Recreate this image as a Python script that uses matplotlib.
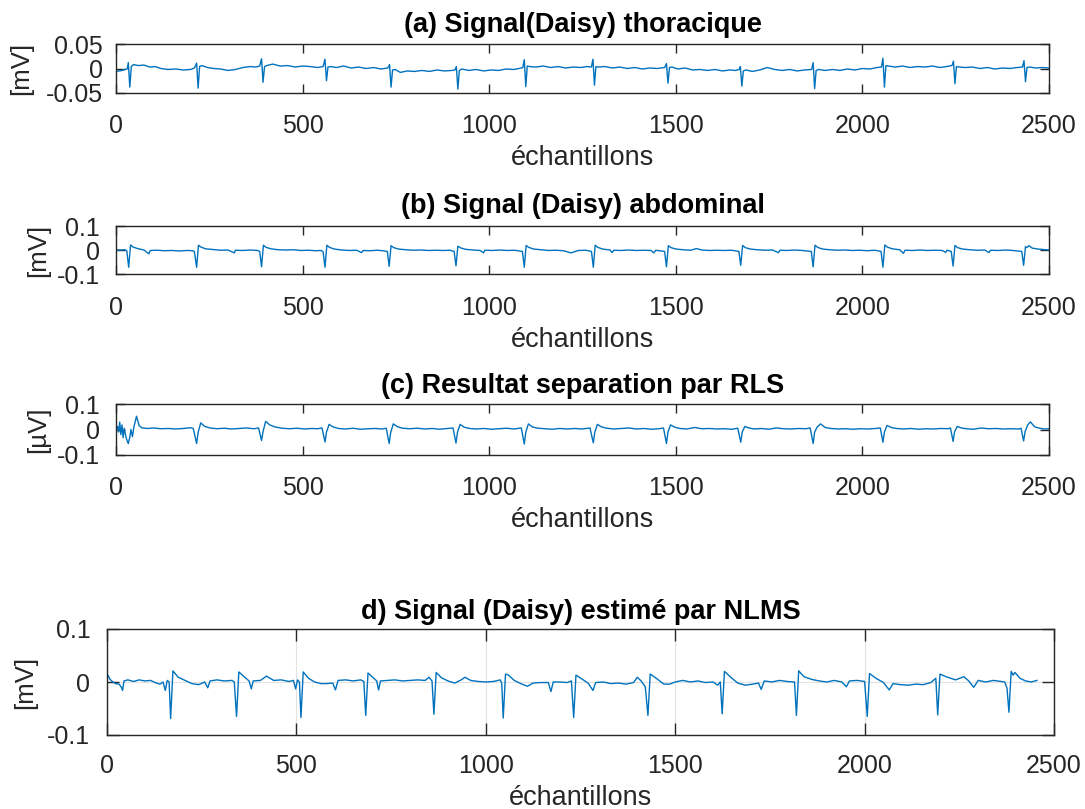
import matplotlib
matplotlib.use("Agg")
import matplotlib.pyplot as plt

plt.rcParams['font.family'] = ['Liberation Sans', 'DejaVu Sans']
plt.rcParams['axes.unicode_minus'] = False

# (a) thoracic signal (sample index, mV)
a_x = [0, 8, 16, 24, 30,
       33, 37, 41, 47, 60, 75, 90, 105, 120, 140, 160, 180, 200, 210,
       216, 220, 224, 230, 245, 262, 280, 300, 320, 340, 360, 375, 385,
       390, 394, 398, 404, 420, 440, 460, 480, 500, 520, 540, 555,
       560, 564, 568, 575, 590, 610, 630, 650, 670, 690, 710, 728,
       733, 737, 741, 748, 762, 780, 800, 820, 840, 860, 880, 900, 908,
       912, 916, 920, 927, 945, 965, 985, 1005, 1025, 1045, 1065, 1080, 1090,
       1094, 1098, 1102, 1108, 1125, 1145, 1165, 1185, 1205, 1225, 1245, 1262, 1274,
       1278, 1282, 1286, 1292, 1310, 1330, 1350, 1370, 1390, 1410, 1430, 1450, 1470,
       1475, 1479, 1483, 1490, 1505, 1525, 1545, 1565, 1585, 1605, 1625, 1645, 1660, 1670,
       1673, 1677, 1681, 1688, 1705, 1725, 1745, 1765, 1785, 1805, 1825, 1845, 1864,
       1868, 1872, 1876, 1883, 1900, 1920, 1940, 1960, 1980, 2000, 2020, 2040, 2051,
       2055, 2059, 2063, 2070, 2088, 2108, 2128, 2148, 2168, 2188, 2208, 2225, 2240,
       2244, 2248, 2252, 2259, 2275, 2295, 2315, 2335, 2355, 2375, 2395, 2415, 2429,
       2433, 2437, 2441, 2448, 2465, 2482, 2500]
a_y = [-0.006, -0.005, -0.004, -0.002, -0.001,
       0.012, -0.038, 0.004, 0.008, 0.006, 0.007, 0.003, 0.004, 0.000, -0.002, -0.001, -0.003, -0.002, 0.001,
       0.011, -0.040, 0.004, 0.006, 0.002, 0.000, -0.001, -0.004, -0.002, 0.002, 0.004, 0.003, 0.005,
       0.020, -0.028, 0.004, 0.006, 0.009, 0.005, 0.006, 0.003, 0.005, 0.004, 0.002, 0.004,
       0.019, -0.025, 0.003, 0.004, 0.002, 0.005, 0.001, 0.003, 0.000, 0.002, -0.001, 0.001,
       0.008, -0.038, -0.003, -0.002, -0.008, -0.005, -0.006, -0.004, -0.006, -0.003, -0.005, -0.004, -0.003,
       0.004, -0.042, -0.004, -0.001, -0.004, -0.002, -0.005, -0.003, -0.004, -0.001, -0.002, 0.000, 0.002,
       0.018, -0.037, 0.005, 0.004, 0.003, 0.005, 0.002, 0.004, 0.001, 0.003, 0.002, 0.004, 0.003,
       0.019, -0.034, 0.004, 0.003, 0.004, 0.001, 0.003, 0.000, 0.002, -0.001, 0.001, 0.000, 0.002,
       0.010, -0.030, 0.002, 0.003, -0.001, 0.001, -0.003, -0.002, -0.004, -0.002, -0.005, -0.003, -0.004, -0.002,
       0.004, -0.036, -0.005, -0.003, -0.006, -0.003, 0.002, -0.002, -0.004, -0.002, -0.005, -0.003, -0.002,
       0.012, -0.041, -0.004, -0.002, -0.004, -0.002, -0.004, -0.001, -0.003, 0.000, -0.001, 0.002, 0.003,
       0.021, -0.038, 0.006, 0.005, 0.003, 0.005, 0.002, 0.004, 0.003, 0.005, 0.002, 0.004, 0.006,
       0.015, -0.031, 0.004, 0.003, 0.002, 0.003, 0.000, 0.002, -0.001, 0.001, 0.000, 0.002, 0.003,
       0.016, -0.027, 0.002, 0.003, 0.001, 0.002, 0.001]

# (b) abdominal signal
b_x = [0, 12, 24, 29,
       34, 39, 46, 58, 75, 88, 92, 110, 130, 150, 170, 190, 205, 210,
       216, 221, 228, 240, 260, 280, 300, 317, 320, 340, 360, 380, 385,
       390, 395, 402, 415, 435, 455, 475, 495, 515, 535, 550, 555,
       560, 565, 572, 585, 605, 625, 645, 658, 662, 680, 700, 715, 727,
       732, 737, 744, 757, 777, 797, 817, 837, 857, 877, 895, 906,
       911, 916, 923, 936, 956, 976, 985, 988, 1008, 1028, 1048, 1068, 1089,
       1094, 1099, 1106, 1119, 1139, 1159, 1179, 1199, 1219, 1239, 1259, 1274,
       1279, 1284, 1291, 1304, 1324, 1329, 1334, 1354, 1374, 1394, 1414, 1434, 1441, 1446, 1470,
       1475, 1480, 1487, 1500, 1520, 1540, 1555, 1570, 1590, 1610, 1630, 1650, 1669,
       1674, 1679, 1686, 1699, 1719, 1739, 1759, 1775, 1779, 1799, 1819, 1839, 1863,
       1868, 1873, 1880, 1893, 1913, 1933, 1953, 1973, 1993, 2013, 2033, 2050,
       2055, 2060, 2067, 2080, 2100, 2110, 2114, 2134, 2154, 2174, 2194, 2214, 2223, 2227, 2238,
       2243, 2248, 2255, 2268, 2288, 2308, 2328, 2339, 2343, 2363, 2383, 2403, 2427,
       2432, 2437, 2441, 2446, 2455, 2470, 2485, 2500]
b_y = [0.000, 0.000, 0.001, -0.004,
       -0.072, 0.021, 0.012, 0.006, 0.000, -0.016, -0.002, -0.001, -0.003, -0.002, -0.004, -0.002, -0.003, -0.006,
       -0.072, 0.020, 0.012, 0.005, 0.002, -0.001, 0.000, -0.012, -0.001, -0.002, 0.000, -0.002, -0.006,
       -0.070, 0.020, 0.011, 0.005, 0.001, 0.000, 0.001, -0.002, -0.001, -0.003, -0.002, -0.008,
       -0.072, 0.020, 0.011, 0.004, 0.000, -0.002, -0.001, -0.011, -0.002, -0.003, -0.001, -0.003, -0.006,
       -0.068, 0.018, 0.010, 0.004, 0.001, -0.001, 0.000, -0.002, -0.001, -0.002, -0.001, -0.006,
       -0.066, 0.016, 0.009, 0.003, 0.000, -0.002, -0.012, -0.001, -0.002, 0.000, -0.002, -0.001, -0.006,
       -0.072, 0.019, 0.011, 0.004, 0.001, -0.002, -0.001, -0.003, -0.012, -0.002, -0.001, -0.006,
       -0.072, 0.020, 0.011, 0.004, 0.000, -0.011, -0.001, -0.002, 0.000, -0.002, -0.001, -0.002, -0.012, -0.001, -0.006,
       -0.070, 0.018, 0.010, 0.004, 0.001, -0.001, 0.006, 0.000, -0.002, -0.001, -0.002, -0.001, -0.006,
       -0.064, 0.019, 0.010, 0.004, 0.001, -0.001, 0.000, -0.011, -0.001, -0.002, 0.000, -0.002, -0.006,
       -0.070, 0.020, 0.011, 0.004, 0.001, -0.001, 0.000, -0.002, -0.001, -0.003, -0.001, -0.006,
       -0.072, 0.021, 0.012, 0.005, 0.001, -0.014, -0.001, -0.002, 0.000, -0.002, -0.001, -0.002, -0.010, -0.001, -0.006,
       -0.067, 0.019, 0.010, 0.004, 0.001, -0.001, 0.000, -0.011, -0.001, -0.002, 0.000, -0.002, -0.006,
       -0.064, 0.014, 0.010, 0.018, 0.008, 0.004, 0.002, 0.000]

# (c) RLS separation result
c_x = [0, 4, 7, 10, 13, 16, 19, 22, 26, 30, 33, 37, 40, 44, 48, 55, 62, 70, 85, 100, 120, 140, 160, 180, 200, 207,
       216, 220, 227, 238, 252, 270, 290, 310, 330, 350, 370, 382,
       390, 394, 401, 412, 426, 445, 465, 485, 505, 525, 540, 552,
       560, 564, 571, 582, 596, 615, 635, 655, 675, 695, 712, 724,
       732, 736, 743, 754, 768, 787, 807, 827, 847, 867, 887, 903,
       911, 915, 922, 933, 947, 966, 986, 1006, 1026, 1046, 1066, 1086,
       1094, 1098, 1105, 1116, 1130, 1149, 1169, 1189, 1209, 1229, 1249, 1270,
       1279, 1283, 1290, 1301, 1315, 1334, 1354, 1374, 1394, 1414, 1434, 1455, 1467,
       1475, 1479, 1486, 1497, 1511, 1530, 1550, 1570, 1590, 1610, 1630, 1650, 1666,
       1674, 1678, 1685, 1696, 1710, 1729, 1749, 1769, 1789, 1809, 1829, 1849, 1860,
       1868, 1872, 1879, 1888, 1900, 1915, 1935, 1955, 1975, 1995, 2015, 2035, 2048,
       2055, 2059, 2066, 2077, 2091, 2110, 2130, 2150, 2170, 2190, 2210, 2230, 2236,
       2243, 2247, 2254, 2265, 2279, 2298, 2318, 2338, 2358, 2378, 2398, 2418, 2425,
       2432, 2436, 2443, 2450, 2462, 2478, 2490, 2500]
c_y = [0.000, 0.012, -0.010, 0.029, -0.020, 0.018, -0.032, 0.005, -0.025, -0.045, -0.055, -0.030, 0.000, -0.028,
       0.010, 0.052, 0.015, 0.006, 0.004, 0.006, 0.003, 0.004, 0.002, 0.004, 0.007, 0.004,
       -0.055, -0.012, 0.026, 0.012, 0.006, 0.003, 0.005, 0.002, 0.004, 0.006, 0.003, 0.006,
       -0.043, -0.008, 0.032, 0.018, 0.010, 0.005, 0.003, 0.005, 0.002, 0.004, 0.003, 0.006,
       -0.049, -0.010, 0.020, 0.010, 0.004, 0.002, 0.005, 0.001, 0.003, 0.004, 0.002, 0.005,
       -0.055, -0.012, 0.022, 0.011, 0.005, 0.003, 0.005, 0.002, 0.004, 0.001, 0.004, 0.006,
       -0.053, -0.011, 0.020, 0.009, 0.004, 0.002, 0.004, 0.001, 0.003, 0.005, 0.002, 0.006,
       -0.057, -0.011, 0.022, 0.010, 0.005, 0.003, 0.001, 0.004, 0.002, 0.004, 0.002, 0.006,
       -0.052, -0.010, 0.020, 0.010, 0.005, 0.002, 0.004, 0.006, 0.002, 0.004, 0.001, 0.003, 0.006,
       -0.055, -0.010, 0.018, 0.009, 0.004, 0.002, 0.008, 0.003, 0.004, 0.002, 0.003, 0.001, 0.005,
       -0.050, -0.010, 0.012, 0.006, 0.002, 0.004, 0.001, 0.006, 0.003, 0.002, 0.004, 0.003, 0.006,
       -0.055, -0.010, 0.010, 0.022, 0.008, 0.004, 0.002, 0.003, 0.001, 0.003, 0.002, 0.004, 0.006,
       -0.050, -0.010, 0.016, 0.008, 0.004, 0.002, 0.004, 0.001, 0.003, 0.002, 0.004, 0.003, 0.006,
       -0.047, -0.009, 0.012, 0.006, 0.003, 0.001, 0.006, 0.003, 0.004, 0.002, 0.003, 0.002, 0.005,
       -0.045, -0.008, 0.018, 0.030, 0.010, 0.004, 0.002, 0.003]

# (d) NLMS estimate
d_x = [0, 3, 8, 14, 22, 32, 38, 41, 45, 55, 70, 85, 100, 115, 130, 140, 148, 154,
       159, 164, 168, 174, 188, 206, 224, 242, 258, 266, 272, 290, 310, 330, 336,
       342, 348, 362, 375, 381, 386, 405, 421, 440, 460, 480, 492, 498, 503, 508,
       512, 518, 532, 548, 565, 580, 596, 603, 610, 630, 650, 670, 678,
       683, 689, 703, 712, 717, 722, 740, 760, 780, 800, 820, 840, 850, 858,
       863, 869, 883, 900, 918, 935, 945, 960, 980, 1000, 1020, 1038, 1042,
       1046, 1052, 1060, 1075, 1095, 1110, 1125, 1145, 1165, 1172, 1178, 1195, 1215, 1226,
       1232, 1238, 1255, 1270, 1283, 1290, 1310, 1330, 1350, 1370, 1390, 1400, 1410, 1421,
       1428, 1434, 1450, 1470, 1485, 1500, 1520, 1540, 1560, 1580, 1600, 1612, 1619,
       1624, 1630, 1645, 1665, 1685, 1705, 1720, 1727, 1735, 1755, 1775, 1795, 1815,
       1820, 1826, 1840, 1860, 1880, 1900, 1920, 1940, 1952, 1960, 1980, 2000,
       2007, 2013, 2030, 2050, 2065, 2075, 2095, 2115, 2135, 2155, 2175, 2188,
       2193, 2199, 2215, 2240, 2262, 2275, 2288, 2300, 2320, 2340, 2360, 2370, 2376,
       2381, 2387, 2392, 2397, 2410, 2425, 2440, 2455]
d_y = [0.016, 0.012, 0.005, 0.001, -0.003, -0.004, -0.010, -0.016, 0.002, 0.004, 0.001, 0.004, 0.002, 0.003,
       -0.002, -0.004, 0.000, -0.016,
       0.003, 0.000, -0.069, 0.021, 0.009, 0.003, -0.003, -0.005, 0.000, -0.011, 0.002, 0.004, 0.002, 0.003, 0.000,
       -0.065, 0.019, 0.010, 0.002, -0.013, 0.002, 0.003, 0.011, 0.003, 0.004, 0.001, 0.003, -0.013, 0.004, 0.000,
       -0.067, 0.019, 0.007, 0.000, -0.003, -0.003, -0.002, -0.015, 0.003, 0.004, 0.002, 0.004, 0.001,
       -0.063, 0.017, 0.008, 0.002, -0.015, 0.002, 0.003, 0.004, 0.002, 0.003, 0.004, 0.003, 0.009, 0.002,
       -0.061, 0.018, 0.008, 0.002, -0.002, 0.004, 0.009, 0.003, 0.001, 0.000, 0.001, 0.004, -0.002,
       -0.068, 0.015, 0.013, 0.003, -0.004, -0.008, -0.002, -0.001, -0.001, -0.018, 0.000, 0.000, -0.001, 0.002,
       -0.067, 0.013, 0.005, -0.002, -0.016, -0.001, 0.000, -0.003, -0.002, -0.004, -0.001, 0.009, 0.002, -0.009,
       -0.063, 0.015, 0.007, -0.004, -0.004, 0.000, 0.003, 0.000, 0.002, -0.001, 0.000, -0.006, 0.000,
       -0.060, 0.020, 0.010, -0.002, -0.006, -0.004, -0.002, -0.014, 0.002, 0.000, 0.003, 0.001, 0.000,
       -0.063, 0.021, 0.010, 0.005, 0.002, 0.000, 0.003, 0.000, -0.009, 0.002, 0.003, 0.001,
       -0.065, 0.016, 0.007, -0.001, -0.015, -0.003, -0.005, -0.006, -0.004, -0.005, -0.001, 0.007,
       -0.062, 0.015, 0.010, 0.004, 0.010, 0.002, -0.010, 0.003, 0.000, 0.003, 0.001, 0.000, -0.012,
       -0.057, 0.020, 0.013, 0.018, 0.007, 0.002, 0.000, 0.003]

titles = ['(a) Signal(Daisy) thoracique', '(b) Signal (Daisy) abdominal',
          '(c) Resultat separation par RLS', 'd) Signal (Daisy) estimé par NLMS']
ylabels = ['[mV]', '[mV]', '[µV]', '[mV]']
ylims = [(-0.05, 0.05), (-0.1, 0.1), (-0.1, 0.1), (-0.1, 0.1)]
yticks = [[-0.05, 0, 0.05], [-0.1, 0, 0.1], [-0.1, 0, 0.1], [-0.1, 0, 0.1]]
yticklabels = [['-0.05', '0', '0.05'], ['-0.1', '0', '0.1'], ['-0.1', '0', '0.1'], ['-0.1', '0', '0.1']]
xticks = [0, 500, 1000, 1500, 2000, 2500]
xlabel = 'échantillons'

series = [(a_x, a_y), (b_x, b_y), (c_x, c_y), (d_x, d_y)]

W, H = 1085, 809
fig = plt.figure(figsize=(W / 100, H / 100), dpi=100)

# boxes in pixels: left, top, right, bottom
boxes = [(116, 44, 1049, 93), (116, 226, 1049, 274), (116, 404, 1049, 455), (107, 629, 1054, 735)]
title_pad = [8.5, 9.5, 8, 7]
xtick_pad = [15, 16, 15, 14]
ytick_pad = [9.5, 11.5, 11.5, 12]
xlabel_top = [145, 327, 507, 785]
ylabel_right = [33, 50, 50, 37]

edge = '#262626'
for i in range(4):
    l, t, r, b = boxes[i]
    ax = fig.add_axes([l / W, 1 - b / H, (r - l) / W, (b - t) / H])
    x, y = series[i]
    ax.plot(x, y, color='#0072BD', linewidth=1.0)
    ax.set_xlim(0, 2500)
    ax.set_ylim(*ylims[i])
    ax.set_xticks(xticks)
    ax.set_xticklabels([str(v) for v in xticks])
    ax.set_yticks(yticks[i])
    ax.set_yticklabels(yticklabels[i])
    for s in ax.spines.values():
        s.set_color(edge)
        s.set_linewidth(1.0)
    tl = 8.5 if i == 3 else 6.5
    ax.tick_params(axis='both', direction='in', top=True, right=True, length=tl,
                   width=1.0, color=edge, labelcolor=edge, labelsize=18)
    ax.tick_params(axis='x', pad=xtick_pad[i])
    ax.tick_params(axis='y', pad=ytick_pad[i])
    if i == 3:
        ax.grid(True, color='#e2e2e2', linewidth=0.8)
        ax.set_axisbelow(True)
    ax.set_title(titles[i], fontsize=19.5, fontweight='bold', pad=title_pad[i])
    ax.set_xlabel(xlabel, fontsize=19.5, color=edge, va='top')
    ax.xaxis.set_label_coords(0.5 * (l + r) / W, 1 - xlabel_top[i] / H, transform=fig.transFigure)
    ax.set_ylabel(ylabels[i], fontsize=18.5, color=edge)
    ax.yaxis.set_label_coords(ylabel_right[i] / W, 1 - 0.5 * (t + b) / H, transform=fig.transFigure)

fig.savefig('out.png', dpi=100)
